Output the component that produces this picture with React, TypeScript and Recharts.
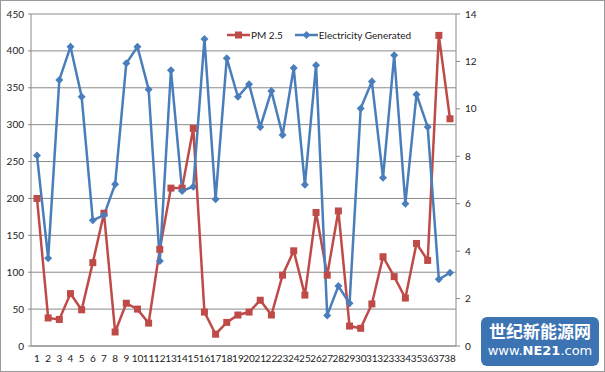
import React from 'react';
import { LineChart, Line, XAxis, YAxis, CartesianGrid } from 'recharts';

const days = Array.from({ length: 38 }, (_, i) => String(i + 1));

const pm25 = [
  200, 38, 36, 71, 49, 113, 180, 19, 58, 50, 31, 131, 214, 214, 295, 46, 16, 32, 42,
  46, 62, 42, 96, 129, 69, 181, 96, 183, 27, 24, 57, 121, 94, 65, 139, 116, 421, 308,
];

const electricity = [
  8.03, 3.7, 11.22, 12.62, 10.51, 5.3, 5.52, 6.82, 11.92, 12.62, 10.82, 3.58, 11.63,
  6.54, 6.72, 12.95, 6.19, 12.13, 10.51, 11.04, 9.24, 10.75, 8.9, 11.72, 6.8, 11.84,
  1.29, 2.53, 1.8, 10.02, 11.15, 7.1, 12.26, 6.0, 10.61, 9.24, 2.81, 3.09,
];

const leftTicks = [0, 50, 100, 150, 200, 250, 300, 350, 400, 450];
const rightTicks = [0, 2, 4, 6, 8, 10, 12, 14];

const RED = '#BE4B48';
const BLUE = '#4A7EBB';
const GRID = '#8a8a8a';
const FONT = 'Lato, "Liberation Sans", sans-serif';

const data = days.map((d, i) => ({ day: d, pm: pm25[i], elec: electricity[i] }));

const SquareDot = (props: any) => {
  const { cx, cy, index } = props;
  return <rect key={`sq-${index}`} x={cx - 3.5} y={cy - 3.5} width={7} height={7} fill={RED} />;
};

const DiamondDot = (props: any) => {
  const { cx, cy, index } = props;
  return (
    <polygon
      key={`dm-${index}`}
      points={`${cx},${cy - 4} ${cx + 4},${cy} ${cx},${cy + 4} ${cx - 4},${cy}`}
      fill={BLUE}
    />
  );
};

const LegendBox = () => (
  <div
    style={{
      position: 'absolute',
      left: 227,
      top: 29,
      display: 'flex',
      alignItems: 'center',
      fontFamily: FONT,
      fontSize: 10,
      color: '#222',
    }}
  >
    <svg width={23} height={10}>
      <line x1={0} y1={5} x2={23} y2={5} stroke={RED} strokeWidth={2.5} />
      <rect x={8} y={1.5} width={7} height={7} fill={RED} />
    </svg>
    <span style={{ marginLeft: 1 }}>PM 2.5</span>
    <svg width={23} height={10} style={{ marginLeft: 12 }}>
      <line x1={0} y1={5} x2={23} y2={5} stroke={BLUE} strokeWidth={2.5} />
      <polygon points="11.5,1 15.5,5 11.5,9 7.5,5" fill={BLUE} />
    </svg>
    <span style={{ marginLeft: 1 }}>Electricity Generated</span>
  </div>
);

const App = () => {
  return (
    <div style={{ position: 'absolute', left: 0, top: 0, width: 605, height: 372, background: '#fff' }}>
      <LineChart width={605} height={372} data={data} margin={{ top: 14, right: 0, bottom: 0, left: 0 }}>
        <CartesianGrid vertical={false} stroke={GRID} yAxisId="left" />
        <XAxis
          dataKey="day"
          interval={0}
          padding={{ left: 6, right: 6 }}
          tickLine={false}
          axisLine={{ stroke: GRID }}
          height={26}
          tick={{ fill: '#222', fontSize: 10, fontFamily: FONT }}
          tickMargin={3}
        />
        <YAxis
          yAxisId="left"
          domain={[0, 450]}
          ticks={leftTicks}
          width={31}
          axisLine={{ stroke: GRID }}
          tickLine={{ stroke: GRID }}
          tickSize={3}
          tickMargin={4}
          tick={{ fill: '#222', fontSize: 10, fontFamily: FONT }}
        />
        <YAxis
          yAxisId="right"
          orientation="right"
          domain={[0, 14]}
          ticks={rightTicks}
          width={149}
          axisLine={{ stroke: GRID }}
          tickLine={{ stroke: GRID }}
          tickSize={4}
          tickMargin={5}
          tick={{ fill: '#222', fontSize: 10, fontFamily: FONT, textAnchor: 'start' }}
        />
        <Line
          yAxisId="left"
          dataKey="pm"
          name="PM 2.5"
          stroke={RED}
          strokeWidth={2.5}
          dot={SquareDot}
          activeDot={false}
          isAnimationActive={false}
        />
        <Line
          yAxisId="right"
          dataKey="elec"
          name="Electricity Generated"
          stroke={BLUE}
          strokeWidth={2.5}
          dot={DiamondDot}
          activeDot={false}
          isAnimationActive={false}
        />
      </LineChart>
      <LegendBox />
      <div
        style={{
          position: 'absolute',
          left: 481,
          top: 317,
          width: 118,
          height: 49,
          background: '#3c73b3',
          borderRadius: 6,
          color: '#fff',
          fontFamily: '"Noto Sans CJK SC", sans-serif',
          textAlign: 'center',
        }}
      >
        <div style={{ fontSize: 17, fontWeight: 700, lineHeight: '22px', marginTop: 3 }}>世纪新能源网</div>
        <div style={{ fontSize: 13, lineHeight: '18px', fontFamily: '"DejaVu Sans", sans-serif' }}>
          www.<b>NE21</b>.com
        </div>
      </div>
      <div
        style={{
          position: 'absolute',
          left: 0,
          top: 0,
          width: 605,
          height: 372,
          border: '1px solid #9a9a9a',
          boxSizing: 'border-box',
          pointerEvents: 'none',
        }}
      />
    </div>
  );
};

export default App;
